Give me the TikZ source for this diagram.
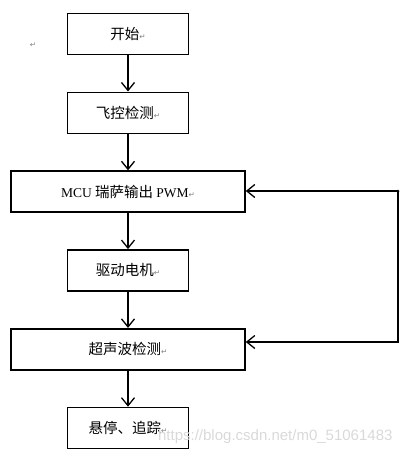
\documentclass[tikz,border=0pt]{standalone}
\usepackage{fontspec}
\setmainfont{Liberation Serif}
\newfontfamily\cjk{Noto Sans CJK SC}
\newfontfamily\markfont{DejaVu Sans}
\newfontfamily\wmfont{Liberation Sans}
\usetikzlibrary{arrows.meta,positioning}

\newcommand{\retmark}{{\markfont\fontsize{7.5}{7.5}\selectfont\textcolor{gray}{↵}}}
\newcommand{\lat}[1]{{\rmfamily\fontsize{13.5}{15}\selectfont #1}}

\begin{document}
\begin{tikzpicture}[
    x=1pt, y=1pt,
    node distance=36.2pt,
    stepbox/.style={rectangle, draw, line width=1.6pt, minimum width=121pt, minimum height=41pt, inner sep=0pt, align=center, font=\cjk\fontsize{14.5}{16}\selectfont},
    widebox/.style={stepbox, minimum width=234pt},
    arrow/.style={-{Straight Barb[length=8pt,width=13pt]}, line width=1.3pt}
]
\useasboundingbox (0,0) rectangle (407,-456);

% Start
\node[stepbox] (start) at (128,-34) {开始\retmark};

% Flight controller check
\node[stepbox, below=of start] (detect) {飞控检测\retmark};

% MCU output
\node[widebox, below=of detect] (mcu) {\lat{MCU} 瑞萨输出 \lat{PWM}\retmark};

% Motors
\node[stepbox, below=of mcu] (motor) {驱动电机\retmark};

% Ultrasonic
\node[widebox, below=of motor] (sonar) {超声波检测\retmark};

% Hover / track
\node[stepbox, below=of sonar] (hover) {悬停、追踪\retmark};

% stray paragraph mark
\node (pmark) at (33,-45) {\retmark};

% Arrows
\draw[arrow] (start) -- (detect);
\draw[arrow] (detect) -- (mcu);
\draw[arrow] (mcu) -- (motor);
\draw[arrow] (motor) -- (sonar);
\draw[arrow] (sonar) -- (hover);

% Feedback loop
\coordinate (fbtop) at (398,-191);
\coordinate (fbbot) at (398,-342);
\draw[arrow] (fbtop) -- (fbtop -| mcu.east);
\draw[arrow] (fbtop) -- (fbbot) -- (fbbot -| sonar.east);
\fill (fbtop) circle (1.5pt);

% Watermark
\node[anchor=east, text=gray!30, font=\wmfont\fontsize{15}{15}\selectfont] (wm) at (396,-437) {https://blog.csdn.net/m0\_51061483};

\end{tikzpicture}
\end{document}
